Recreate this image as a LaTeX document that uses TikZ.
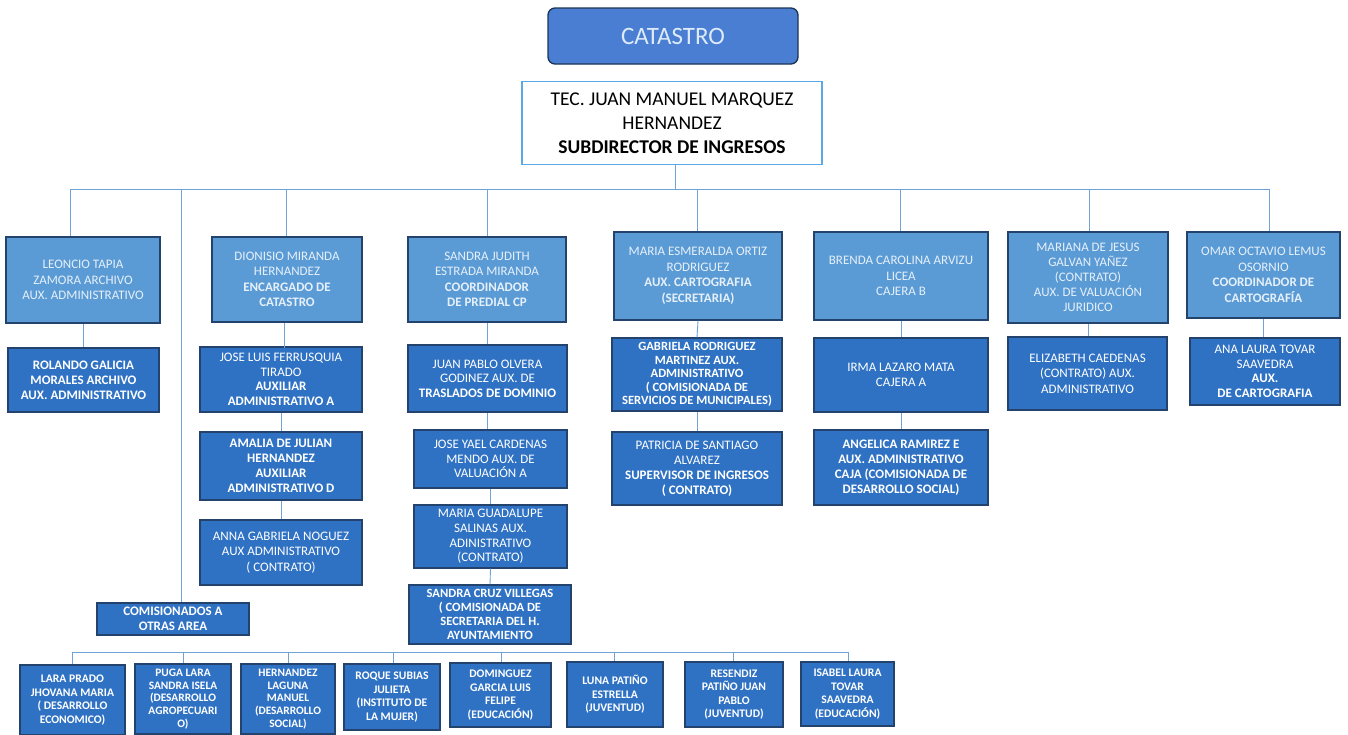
\documentclass[tikz,border=0pt]{standalone}
\usepackage{fontspec}
\setmainfont{Carlito}
\begin{document}
\definecolor{lightbox}{HTML}{5B9BD5}
\definecolor{darkbox}{HTML}{2F72C4}
\definecolor{boxedge}{HTML}{23426C}
\definecolor{titlefill}{HTML}{4A7ED2}
\definecolor{titletext}{HTML}{DCEAF9}
\definecolor{paletext}{HTML}{E6F0FA}
\definecolor{wire}{HTML}{6FA3D8}
\definecolor{headedge}{HTML}{5BA8E6}
\begin{tikzpicture}[x=1pt,y=-1pt,
  wirestyle/.style={draw=wire,line width=0.9pt},
  boxbase/.style={draw=boxedge,line width=1.3pt,align=center,inner sep=1pt},
  lt/.style={boxbase,fill=lightbox,text=paletext,font=\fontsize{13}{15.5}\selectfont},
  dk/.style={boxbase,fill=darkbox,text=white,font=\fontsize{13}{14.6}\selectfont},
  sm/.style={boxbase,fill=darkbox,text=white,font=\fontsize{11.6}{13.6}\selectfont\bfseries},
  sz/.style args={#1x#2}{minimum width=#1pt,minimum height=#2pt}]
\useasboundingbox (0,0) rectangle (1348,734);
\fill[white] (0,0) rectangle (1348,734);

% title and head
\node[draw=boxedge!80!black,line width=1.3pt,fill=titlefill,rounded corners=7pt,
  sz=250x56,text=titletext,font=\fontsize{25}{28}\selectfont] (title) at (673,36) {CATASTRO};
\node[draw=headedge,line width=1.5pt,fill=white,sz=300x83,align=center,
  font=\fontsize{19.5}{24}\selectfont] (head) at (672,123)
  {TEC. JUAN MANUEL MARQUEZ\\HERNANDEZ\\\textbf{SUBDIRECTOR DE INGRESOS}};

% first level
\node[lt,sz=154x86] (leoncio) at (83,280) {LEONCIO TAPIA\\ZAMORA ARCHIVO\\AUX. ADMINISTRATIVO};
\node[lt,sz=150x85] (dionisio) at (287,279.5) {DIONISIO MIRANDA\\HERNANDEZ\\\textbf{ENCARGADO DE}\\\textbf{CATASTRO}};
\node[lt,sz=158x85] (sandra) at (487,279.5) {SANDRA JUDITH\\ESTRADA MIRANDA\\\textbf{COORDINADOR}\\\textbf{DE PREDIAL CP}};
\node[lt,sz=168x88] (esmeralda) at (698,276) {MARIA ESMERALDA ORTIZ\\RODRIGUEZ\\\textbf{AUX. CARTOGRAFIA}\\\textbf{(SECRETARIA)}};
\node[lt,sz=174x88] (brenda) at (901,276) {BRENDA CAROLINA ARVIZU\\LICEA\\CAJERA B};
\node[lt,sz=160x91,font=\fontsize{13}{15}\selectfont] (mariana) at (1088,277.5) {MARIANA DE JESUS\\GALVAN YAÑEZ\\(CONTRATO)\\AUX. DE VALUACIÓN\\JURIDICO};
\node[lt,sz=153x86] (omar) at (1263.5,275) {OMAR OCTAVIO LEMUS\\OSORNIO\\\textbf{COORDINADOR DE}\\\textbf{CARTOGRAFÍA}};

% second level
\node[dk,sz=151x64,font=\fontsize{13}{15}\selectfont\bfseries] (rolando) at (83.5,380) {ROLANDO GALICIA\\MORALES ARCHIVO\\AUX. ADMINISTRATIVO};
\node[dk,sz=162x65] (joseluis) at (281,379.5) {JOSE LUIS FERRUSQUIA\\TIRADO\\\textbf{AUXILIAR}\\\textbf{ADMINISTRATIVO A}};
\node[dk,sz=159x67] (juanpablo) at (487.5,378.5) {JUAN PABLO OLVERA\\GODINEZ AUX. DE\\\textbf{TRASLADOS DE DOMINIO}};
\node[dk,sz=170x73,font=\fontsize{12.6}{13.6}\selectfont\bfseries] (gabriela) at (697,374.5) {GABRIELA RODRIGUEZ\\MARTINEZ AUX.\\ADMINISTRATIVO\\( COMISIONADA DE\\SERVICIOS DE MUNICIPALES)};
\node[dk,sz=174x74] (irma) at (901,375) {IRMA LAZARO MATA\\CAJERA A};
\node[dk,sz=159x73,font=\fontsize{13}{15.5}\selectfont] (elizabeth) at (1087.5,373.5) {ELIZABETH CAEDENAS\\(CONTRATO) AUX.\\ADMINISTRATIVO};
\node[dk,sz=150x67] (analaura) at (1265,371.5) {ANA LAURA TOVAR\\SAAVEDRA\\\textbf{AUX.}\\\textbf{DE CARTOGRAFIA}};

% third level
\node[dk,sz=162x68,font=\fontsize{13}{15}\selectfont\bfseries] (amalia) at (281,466) {AMALIA DE JULIAN\\HERNANDEZ\\AUXILIAR\\ADMINISTRATIVO D};
\node[dk,sz=153x58] (joseyael) at (490.5,459) {JOSE YAEL CARDENAS\\MENDO AUX. DE\\VALUACIÓN A};
\node[dk,sz=170x73,font=\fontsize{13}{15}\selectfont] (patricia) at (697,468.5) {PATRICIA DE SANTIAGO\\ALVAREZ\\\textbf{SUPERVISOR DE INGRESOS}\\\textbf{( CONTRATO)}};
\node[dk,sz=174x75,font=\fontsize{13}{15}\selectfont\bfseries] (angelica) at (901,467.5) {ANGELICA RAMIREZ E\\AUX. ADMINISTRATIVO\\CAJA (COMISIONADA DE\\DESARROLLO SOCIAL)};

% fourth and fifth level
\node[dk,sz=162x65,font=\fontsize{13}{15.5}\selectfont] (anna) at (281,552.5) {ANNA GABRIELA NOGUEZ\\AUX ADMINISTRATIVO\\( CONTRATO)};
\node[dk,sz=153x63] (guadalupe) at (490.5,536.5) {MARIA GUADALUPE\\SALINAS AUX.\\ADINISTRATIVO\\(CONTRATO)};
\node[dk,sz=162x59,font=\fontsize{12.6}{14}\selectfont\bfseries] (sandracruz) at (490,614.5) {SANDRA CRUZ VILLEGAS\\( COMISIONADA DE\\SECRETARIA DEL H.\\AYUNTAMIENTO};
\node[dk,sz=152x32,font=\fontsize{13}{15}\selectfont\bfseries] (comisionados) at (173,619) {COMISIONADOS A\\OTRAS AREA};

% bottom row
\node[sm,sz=105x70] (lara) at (72.5,700) {LARA PRADO\\JHOVANA MARIA\\( DESARROLLO\\ECONOMICO)};
\node[sm,sz=96x70,font=\fontsize{11.4}{12.6}\selectfont\bfseries] (puga) at (183,699) {PUGA LARA\\SANDRA ISELA\\(DESARROLLO\\AGROPECUARI\\O)};
\node[sm,sz=94x70,font=\fontsize{11.4}{12.6}\selectfont\bfseries] (hernandez) at (288,699) {HERNANDEZ\\LAGUNA\\MANUEL\\(DESARROLLO\\SOCIAL)};
\node[sm,sz=96x66] (roque) at (392,697) {ROQUE SUBIAS\\JULIETA\\(INSTITUTO DE\\LA MUJER)};
\node[sm,sz=101x64] (dominguez) at (500.5,695) {DOMINGUEZ\\GARCIA LUIS\\FELIPE\\(EDUCACIÓN)};
\node[sm,sz=96x65] (luna) at (615,694.5) {LUNA PATIÑO\\ESTRELLA\\(JUVENTUD)};
\node[sm,sz=98x65] (resendiz) at (734,694.5) {RESENDIZ\\PATIÑO JUAN\\PABLO\\(JUVENTUD)};
\node[sm,sz=93x64] (isabel) at (847.5,694) {ISABEL LAURA\\TOVAR\\SAAVEDRA\\(EDUCACIÓN)};

% upper bus
\coordinate (busL) at (70,189);
\coordinate (busR) at (1269,189);
\coordinate (busH) at (675,189);
\coordinate (d1) at (70,189);
\coordinate (d2) at (181,189);
\coordinate (d3) at (286,189);
\coordinate (d4) at (487,189);
\coordinate (d5) at (697,189);
\coordinate (d6) at (900,189);
\coordinate (d7) at (1089,189);
\coordinate (d8) at (1269,189);
\draw[wirestyle] (head.south -| busH) -- (busH);
\draw[wirestyle] (busL) -- (busR);
\draw[wirestyle] (d1) -- (d1 |- leoncio.north);
\draw[wirestyle] (d2) -- (d2 |- comisionados.north);
\draw[wirestyle] (d3) -- (d3 |- dionisio.north);
\draw[wirestyle] (d4) -- (d4 |- sandra.north);
\draw[wirestyle] (d5) -- (d5 |- esmeralda.north);
\draw[wirestyle] (d6) -- (d6 |- brenda.north);
\draw[wirestyle] (d7) -- (d7 |- mariana.north);
\draw[wirestyle] (d8) -- (d8 |- omar.north);

% columns
\draw[wirestyle] (leoncio.south) -- (leoncio.south |- rolando.north);
\draw[wirestyle] (joseluis.north |- dionisio.south) ++(3,0) -- ++(0,25);
\draw[wirestyle] (joseluis.south) -- (amalia.north);
\draw[wirestyle] (amalia.south) -- (anna.north);
\draw[wirestyle] (sandra.south) -- (sandra.south |- juanpablo.north);
\draw[wirestyle] (juanpablo.south) -- (juanpablo.south |- joseyael.north);
\draw[wirestyle] (joseyael.south) -- (guadalupe.north);
\draw[wirestyle] (guadalupe.south) -- (sandracruz.north);
\draw[wirestyle] (esmeralda.south) -- (gabriela.north);
\draw[wirestyle] (gabriela.south) -- (patricia.north);
\draw[wirestyle] (brenda.south) -- (irma.north);
\draw[wirestyle] (irma.south) -- (angelica.north);
\draw[wirestyle] (mariana.south) -- (mariana.south |- elizabeth.north);
\draw[wirestyle] (omar.south) -- (omar.south |- analaura.north);

% lower bus
\coordinate (e1) at (72,652);
\coordinate (e2) at (183,652);
\coordinate (e3) at (288,652);
\coordinate (e4) at (393,652);
\coordinate (e5) at (501,652);
\coordinate (e6) at (614,652);
\coordinate (e7) at (733,652);
\coordinate (e8) at (848,652);
\draw[wirestyle] (e1) -- (e8);
\draw[wirestyle] (e1) -- (e1 |- lara.north);
\draw[wirestyle] (e2) -- (e2 |- puga.north);
\draw[wirestyle] (e3) -- (e3 |- hernandez.north);
\draw[wirestyle] (e4) -- (e4 |- roque.north);
\draw[wirestyle] (e5) -- (e5 |- dominguez.north);
\draw[wirestyle] (e6) -- (e6 |- luna.north);
\draw[wirestyle] (e7) -- (e7 |- resendiz.north);
\draw[wirestyle] (e8) -- (e8 |- isabel.north);
\end{tikzpicture}
\end{document}
